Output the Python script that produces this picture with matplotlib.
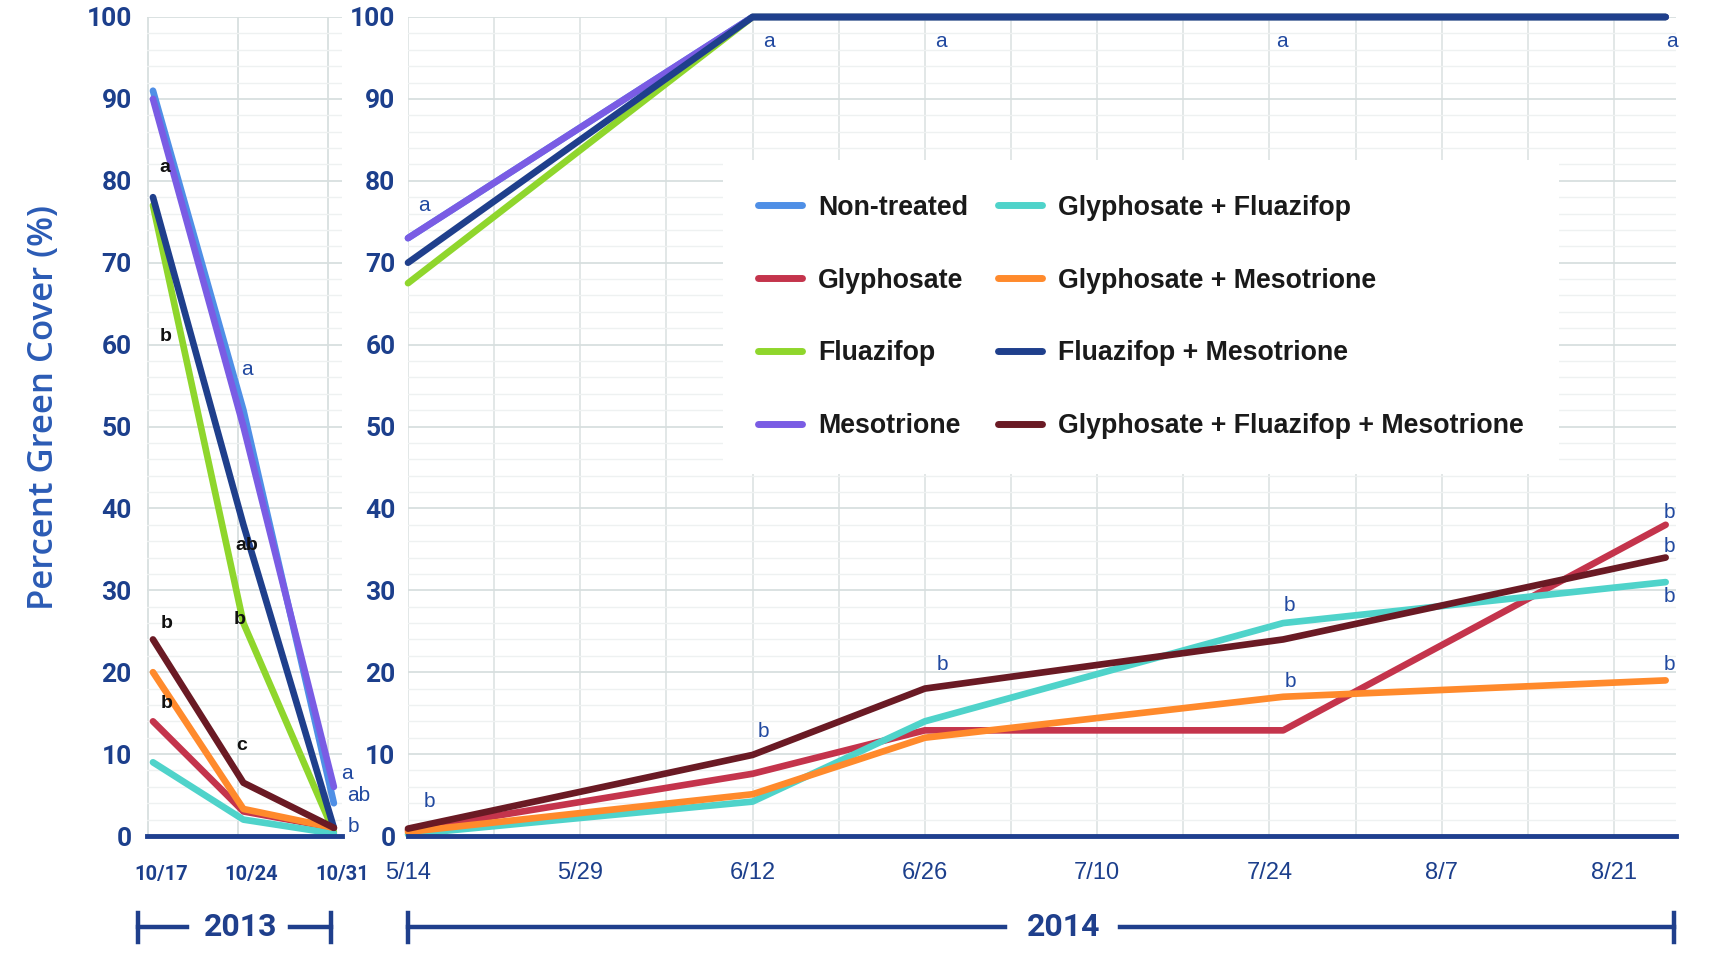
import matplotlib.pyplot as plt
from matplotlib import font_manager
from matplotlib.font_manager import FontProperties
from matplotlib.lines import Line2D
from matplotlib.ticker import MultipleLocator

# fall 2013 rating dates
dates_2013 = ['10/17', '10/24', '10/31']
# 2014 axis labels (evenly spaced categories)
ticks_2014 = ['5/14', '5/29', '6/12', '6/26', '7/10', '7/24', '8/7', '8/21']
# 2014 rating positions, in axis-label units counted from 5/14
pos_2014 = [0, 2.0, 3.0, 5.08, 7.3]

treatments = ['Non-treated', 'Glyphosate', 'Fluazifop', 'Mesotrione',
              'Glyphosate + Fluazifop', 'Glyphosate + Mesotrione',
              'Fluazifop + Mesotrione', 'Glyphosate + Fluazifop + Mesotrione']

# percent green cover, 2013
nontreated_2013 = [91, 52, 4]
glyphosate_2013 = [14, 3, 1]
fluazifop_2013 = [77, 26, 0.5]
mesotrione_2013 = [90, 50, 6]
gly_flu_2013 = [9, 2, 0.3]
gly_meso_2013 = [20, 3.3, 1]
flu_meso_2013 = [78, 38, 1]
gly_flu_meso_2013 = [24, 6.5, 1]

# percent green cover, 2014
nontreated_2014 = [73, 100, 100, 100, 100]
glyphosate_2014 = [0.7, 7.6, 12.9, 12.9, 38]
fluazifop_2014 = [67.5, 100, 100, 100, 100]
mesotrione_2014 = [73, 100, 100, 100, 100]
gly_flu_2014 = [0.2, 4.2, 14, 26, 31]
gly_meso_2014 = [0.5, 5.1, 12, 17, 19]
flu_meso_2014 = [70, 100, 100, 100, 100]
gly_flu_meso_2014 = [0.9, 9.9, 18, 24, 34]

# mean separation letters: (x, percent cover, letter)
letters_2013_black = [(0.07, 81.6, 'a'), (0.07, 61, 'b'), (0.09, 26, 'b'),
                      (0.08, 16.2, 'b'), (0.91, 35.5, 'ab'), (0.89, 26.4, 'b'),
                      (0.92, 11.1, 'c')]
letters_2013_blue = [(0.97, 57, 'a'), (2.08, 7.6, 'a'), (2.15, 5, 'ab'), (2.15, 1.1, 'b')]
letters_2014 = [(0.06, 77, 'a'), (2.06, 97, 'a'), (3.06, 97, 'a'), (5.04, 97, 'a'),
                (7.3, 97, 'a'), (0.09, 4.2, 'b'), (2.03, 12.7, 'b'), (3.07, 20.9, 'b'),
                (5.08, 28.1, 'b'), (5.09, 18.9, 'b'), (7.29, 39.5, 'b'),
                (7.29, 35.4, 'b'), (7.29, 29.2, 'b'), (7.29, 21, 'b')]

colors = ['#4f8fe6', '#c4344c', '#8fd62c', '#7a5ce4',
          '#4fd3ca', '#ff8a2c', '#1f3f8c', '#6a1a24']

series_2013 = [nontreated_2013, glyphosate_2013, fluazifop_2013, mesotrione_2013,
               gly_flu_2013, gly_meso_2013, flu_meso_2013, gly_flu_meso_2013]
series_2014 = [nontreated_2014, glyphosate_2014, fluazifop_2014, mesotrione_2014,
               gly_flu_2014, gly_meso_2014, flu_meso_2014, gly_flu_meso_2014]

names = {f.name for f in font_manager.fontManager.ttflist}
NARROW = 'Liberation Sans Narrow' if 'Liberation Sans Narrow' in names else 'Liberation Sans'
BOLD = 'Roboto' if 'Roboto' in names else 'DejaVu Sans'
NAVY = '#1c3f8c'
LETTER_BLUE = '#2149a0'
W, H = 1721, 977


def fx(px):
    return px / W


def fy(py):
    return 1 - py / H


fig = plt.figure(figsize=(W / 100, H / 100), dpi=100)
bottom, top = 836, 17
ax1 = fig.add_axes([fx(147), fy(bottom), fx(342) - fx(147), fy(top) - fy(bottom)])
ax2 = fig.add_axes([fx(408), fy(bottom), fx(1676) - fx(408), fy(top) - fy(bottom)])

x13 = list(range(len(dates_2013)))
for i, (y, c) in enumerate(zip(series_2013, colors)):
    ax1.plot(x13, y, color=c, lw=4.8, solid_capstyle='round', clip_on=False, zorder=3 + i)
for i, (y, c) in enumerate(zip(series_2014, colors)):
    ax2.plot(pos_2014, y, color=c, lw=4.8, solid_capstyle='round', clip_on=False, zorder=3 + i)

for ax in (ax1, ax2):
    ax.set_ylim(0, 100)
    ax.yaxis.set_major_locator(MultipleLocator(10))
    ax.yaxis.set_minor_locator(MultipleLocator(2))
    ax.grid(True, axis='y', which='major', color='#d8dfdf', lw=1.3)
    ax.grid(True, axis='y', which='minor', color='#eef1f1', lw=1.0)
    for s in ('top', 'left', 'right'):
        ax.spines[s].set_visible(False)
    ax.spines['bottom'].set_color('#1f3f8f')
    ax.spines['bottom'].set_linewidth(3.5)
    ax.spines['bottom'].set_zorder(20)
    ax.tick_params(which='both', length=0)
    ax.set_axisbelow(True)
    for lab in ax.get_yticklabels():
        lab.set_fontfamily(BOLD)
        lab.set_fontweight('bold')
        lab.set_fontsize(19)
        lab.set_color(NAVY)

# 2013 panel: labels sit a little right of the rating points, grid a little left
ax1.set_xlim(-0.066, 2.077)
ax1.set_xticks([v + 0.09 for v in x13])
ax1.set_xticklabels(dates_2013, fontfamily=BOLD, fontweight='bold', fontsize=14.5, color=NAVY)
ax1.set_xticks([v - 0.06 for v in x13], minor=True)
ax1.grid(True, axis='x', which='minor', color='#d8dfdf', lw=1.3)
ax1.tick_params(axis='x', pad=21)
ax1.tick_params(axis='y', pad=11)

# 2014 panel
ax2.set_xlim(0, 7.36)
ax2.set_xticks(range(len(ticks_2014)))
ax2.set_xticklabels(ticks_2014, fontfamily=NARROW, fontsize=17, color=NAVY)
ax2.xaxis.set_minor_locator(MultipleLocator(0.5))
ax2.grid(True, axis='x', which='both', color='#dde3e3', lw=1.2)
ax2.tick_params(axis='x', pad=19)
ax2.tick_params(axis='y', pad=9)

for x, y, t in letters_2013_black:
    ax1.text(x, y, t, ha='left', va='center', fontsize=14, fontweight='bold',
             fontfamily='Liberation Sans', color='#111111', zorder=30, clip_on=False)
for x, y, t in letters_2013_blue:
    ax1.text(x, y, t, ha='left', va='center', fontsize=15, fontfamily=NARROW,
             color=LETTER_BLUE, zorder=30, clip_on=False)
for x, y, t in letters_2014:
    ax2.text(x, y, t, ha='left', va='center', fontsize=15, fontfamily=NARROW,
             color=LETTER_BLUE, zorder=30, clip_on=False)

handles = [Line2D([], [], color=c, lw=5, solid_capstyle='round') for c in colors]
leg = ax2.legend(handles, treatments, ncol=2, loc='center',
                 bbox_to_anchor=(0.663, fy(317)), bbox_transform=fig.transFigure,
                 frameon=True, facecolor='white', edgecolor='none', framealpha=1,
                 fancybox=False, prop=FontProperties(family=NARROW, weight='bold', size=19.3),
                 handlelength=1.65, handletextpad=0.6, columnspacing=1.1,
                 labelspacing=1.75, borderpad=1.3)
leg.set_zorder(25)
for t in leg.get_texts():
    t.set_color('#1a1a1a')

fig.text(fx(44), fy(408), 'Percent Green Cover (%)', rotation=90, ha='center', va='center',
         fontsize=25, fontfamily='Open Sans', fontweight='semibold', color='#2b5bb5')

# year brackets under the axes
def bracket(x0, x1, gap0, gap1, label, xc):
    kw = dict(color='#1f3f8c', lw=3.2, transform=fig.transFigure)
    fig.add_artist(Line2D([fx(x0), fx(gap0)], [fy(927), fy(927)], **kw))
    fig.add_artist(Line2D([fx(gap1), fx(x1)], [fy(927), fy(927)], **kw))
    fig.add_artist(Line2D([fx(x0), fx(x0)], [fy(913), fy(942)], **kw))
    fig.add_artist(Line2D([fx(x1), fx(x1)], [fy(913), fy(942)], **kw))
    fig.text(fx(xc), fy(927), label, ha='center', va='center', fontsize=23,
             fontfamily=BOLD, fontweight='bold', color='#1f3f8c')


bracket(138, 331, 187, 290, '2013', 241)
bracket(408, 1674, 1005, 1120, '2014', 1064)

fig.savefig('out.png', dpi=100, facecolor='white')
